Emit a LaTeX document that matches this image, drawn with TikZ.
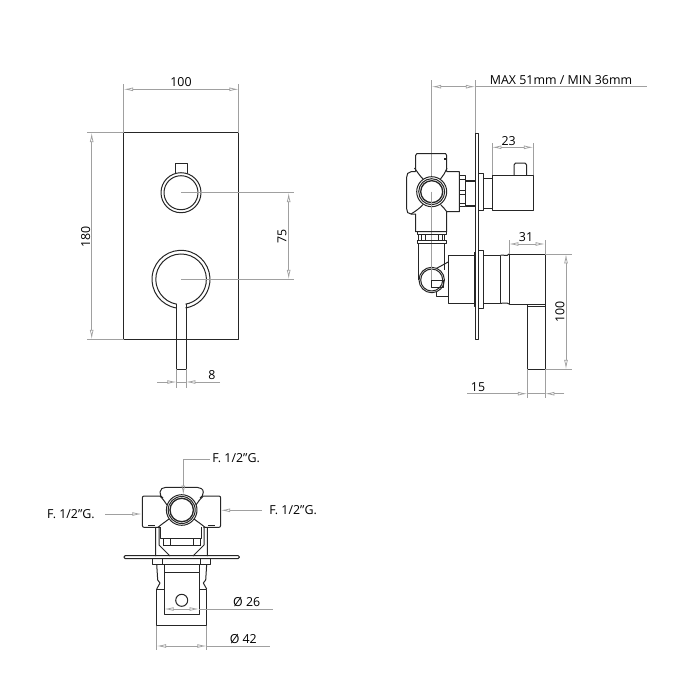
\documentclass[tikz,border=0pt]{standalone}
\usepackage{fontspec}
\setmainfont{Open Sans}
\usetikzlibrary{arrows.meta}
\definecolor{dimgrey}{RGB}{160,160,160}
\tikzset{
  body/.style={draw=black!85,line width=0.75pt,line join=round},
  thin body/.style={draw=black!85,line width=0.5pt},
  dim/.style={draw=dimgrey,line width=0.55pt},
  dimtip/.style={dim,{Latex[open,length=7pt,width=2.8pt]}-{Latex[open,length=7pt,width=2.8pt]}},
  endtip/.style={dim,-{Latex[open,length=7pt,width=2.8pt]}},
  lab/.style={font=\fontsize{9.3}{10}\selectfont,inner sep=0pt,text=black}
}
\begin{document}
\begin{tikzpicture}[x=0.75pt,y=-0.75pt]
\useasboundingbox (0,0) rectangle (700,700);

% front view
\draw[body] (123.7,132.7) rectangle (238.7,339.3);
\draw[body] (175.3,176) -- (175.3,163.3) -- (187.3,163.3) -- (187.3,176);
\draw[body,fill=white] (181,192.7) circle (20);
\draw[body] (181,192.7) circle (17);
\draw[body] (176.7,308) arc (98.5:441:29);
\draw[body] (176.7,304.2) arc (100:440:25.3);
\draw[body] (176.7,304.2) -- (176.7,369.3) -- (186,369.3) -- (186,304.2);
\draw[dim] (181,192.7) -- (293.7,192.7);
\draw[dim] (181,279.3) -- (293.7,279.3);
\draw[dim] (123.7,84) -- (123.7,132.7) (238.7,84) -- (238.7,132.7);
\draw[dim] (87.3,132.7) -- (123.7,132.7) (87.3,339.3) -- (123.7,339.3);
\draw[dimtip] (123.7,89.3) -- (238.7,89.3);
\draw[dimtip] (91.7,132.7) -- (91.7,339.3);
\draw[dimtip] (288.7,192.7) -- (288.7,279.3);
\draw[dim] (176.7,369.3) -- (176.7,388) (186,369.3) -- (186,388);
\draw[dim] (176.7,382) -- (186,382);
\draw[endtip] (157.3,382) -- (176.7,382);
\draw[endtip] (220,382) -- (186,382);
\node[lab] (front width) at (181,82) {100};
\node[lab,rotate=90] (front height) at (85.7,236.7) {180};
\node[lab,rotate=90] (front dist) at (282,236) {75};
\node[lab] (lever width) at (212,375) {8};

% side view
\draw[dim] (431.7,80) -- (431.7,280);
\draw[dim] (475.3,80) -- (475.3,132.7);
\draw[dimtip] (431.7,86.7) -- (475.3,86.7);
\draw[dim] (475.3,86.7) -- (646.7,86.7);
\node[lab] (depth) at (561,80.3) {MAX 51mm / MIN 36mm};
\draw[body] (475.5,133.5) -- (475.5,339.5) -- (478,339.5) -- (478,133.5) -- cycle;
% upper valve
\draw[body] (415.5,171.7) -- (415.5,155.5) -- (417,153.5) -- (445.5,153.5) -- (446.7,155.5) -- (446.7,171.7);
\draw[body] (415.5,171.7) -- (411,171.7) .. controls (408,172) and (406.7,174) .. (406.7,177) -- (406.7,209) .. controls (406.7,212) and (408,214) .. (411,214) -- (415.5,214) -- (415.5,231.7) -- (446.7,231.7) -- (446.7,211.7) -- (459.3,211.7) -- (459.3,171.7) -- (446.7,171.7);
\draw[body] (414.5,168) .. controls (418,173) and (420,176) .. (423,179);
\draw[body] (447,168) .. controls (445,173) and (443,176) .. (440.5,179);
\draw[body] (411,214) .. controls (416,211) and (420,208) .. (423,204.5);
\draw[body] (447,212) .. controls (445,209) and (443,207) .. (440.5,204.5);
\draw[body,line width=1.2pt] (444,159) -- (446.5,159);
\draw[body,fill=white] (431.7,191.7) circle (15);
\draw[body] (431.7,191.7) circle (13);
\draw[body,line width=1pt] (431.7,191.7) circle (11);
\draw[dim] (431.7,191.7) -- (431.7,231);
\draw[body] (459.3,175) rectangle (465.5,206.5);
\draw[thin body] (459.3,179) -- (465.5,179) (459.3,190) -- (465.5,190) (459.3,194) -- (465.5,194) (459.3,203) -- (465.5,203);
\draw[body,line width=1pt] (465.5,181) -- (475.5,181) (465.5,206) -- (475.5,206);
\draw[body] (478,173.3) rectangle (483.3,210);
\draw[body] (483.3,178.3) rectangle (492,208.3);
\draw[body] (492,175) rectangle (533.3,210);
\draw[body] (514,175) -- (514,165) -- (515.5,163) -- (525,163) -- (526.7,165) -- (526.7,175);
% connection
\draw[body] (417.3,231.7) rectangle (446,234);
\draw[body] (418.5,234) rectangle (444.5,240);
\draw[body] (417.3,240) rectangle (446,243.5);
\draw[thin body] (421,234) -- (421,240) (425,234) -- (425,240) (438,234) -- (438,240) (442,234) -- (442,240);
\draw[body] (418.3,243.5) -- (418.3,280) (444.3,243.5) -- (444.3,270);
\draw[body] (436.7,268.3) -- (448.7,261.7);
\draw[body] (436.7,286) -- (436.7,296) -- (448.7,296);
\draw[body,fill=white] (431.7,280) circle (12.7);
\draw[body] (431.7,280) circle (11);
\draw[body] (431.3,280) -- (443.3,280) -- (443.3,287.3) -- (431.3,287.3) -- cycle;
\draw[dim] (431.7,243.5) -- (431.7,280);
% lower handle
\draw[body] (448.7,255) rectangle (474,303.3);
\draw[body] (474,252) rectangle (475.5,306);
\draw[body] (478,250.7) rectangle (483.3,308.3);
\draw[body] (483.3,255) rectangle (500.7,303.3);
\draw[body] (500.7,255) -- (507,255.5) -- (509,254) (500.7,303.3) -- (507,303) -- (509,304);
\draw[body] (509,254) rectangle (545,304);
\draw[body] (527.3,304) rectangle (545,369.3);
\draw[thin body] (527.3,306) -- (545,306);
\draw[dim] (509,240) -- (509,254) (545,240) -- (545,254);
\draw[dimtip] (509,244) -- (545,244);
\draw[dim] (492,143) -- (492,175) (533.3,143) -- (533.3,175);
\draw[dimtip] (492,147.3) -- (533.3,147.3);
\draw[dim] (545,254) -- (571.7,254) (545,369.3) -- (571.7,369.3);
\draw[dimtip] (566,254) -- (566,369.3);
\draw[dim] (527.3,369.3) -- (527.3,398) (545,369.3) -- (545,398);
\draw[dim] (527.3,393.7) -- (545,393.7);
\draw[endtip] (467.3,393.7) -- (527.3,393.7);
\draw[endtip] (564.3,393.7) -- (545,393.7);
\node[lab] (knob depth) at (508.7,140.7) {23};
\node[lab] (handle depth) at (526,236.7) {31};
\node[lab,rotate=90] (lever drop) at (560,311.7) {100};
\node[lab] (lever side) at (478,386.7) {15};

% bottom view
\draw[body] (160,492) .. controls (160,489) and (163,487.3) .. (166,487.3) -- (197,487.3) .. controls (200,487.3) and (203.3,489) .. (203.3,492) .. controls (203.3,495) and (202,497) .. (200,498);
\draw[body] (160,492) .. controls (160,495) and (161,497) .. (163,498);
\draw[body] (160,496) -- (144,496) .. controls (143,496) and (142.3,497) .. (142.3,498) -- (142.3,525) .. controls (142.3,526.5) and (143,527.3) .. (144,527.3) -- (160,527.3);
\draw[body] (203.3,496) -- (219,496) .. controls (220,496) and (220.7,497) .. (220.7,498) -- (220.7,525) .. controls (220.7,526.5) and (220,527.3) .. (219,527.3) -- (203.3,527.3);
\draw[body] (160,496) .. controls (163,499) and (165,502) .. (167,505);
\draw[body] (203.3,496) .. controls (200,499) and (198,502) .. (196,505);
\draw[body] (158,527.3) .. controls (162,524) and (165,522) .. (169,519);
\draw[body] (205,527.3) .. controls (201,524) and (198,522) .. (194,519);
\draw[body,line width=1.2pt] (148,525.5) -- (155,525.5) (208,525.5) -- (215,525.5);
\draw[body] (160,527.3) -- (160,538.3) -- (201.7,538.3) -- (201.7,527.3);
\draw[thin body] (163,538.3) -- (163,545) -- (200,545) -- (200,538.3) (170,538.3) -- (170,545) (193,538.3) -- (193,545);
\draw[body] (155.7,527.3) -- (155.7,556) (159,527.3) -- (159,545) -- (170,556);
\draw[body] (207.3,527.3) -- (207.3,556) (204,527.3) -- (204,545) -- (193,556);
\draw[body,fill=white] (181.7,510) circle (15.3);
\draw[body] (181.7,510) circle (13.5);
\draw[body,line width=1pt] (181.7,510) circle (11.7);
\draw[body,rounded corners=1pt] (124,555.5) rectangle (239.3,558.7);
\draw[body] (152.7,558.7) rectangle (210.7,564.3);
\draw[thin body] (162.7,558.7) -- (162.7,564.3) (200.7,558.7) -- (200.7,564.3);
\draw[body] (156.7,564.3) -- (157.7,580) -- (160,583) -- (156.7,589);
\draw[body] (206.7,564.3) -- (205.7,580) -- (203.3,583) -- (206.7,589);
\draw[body] (164,564.3) -- (164,572.3) (199.3,564.3) -- (199.3,572.3);
\draw[body] (156.7,589) rectangle (206.7,625.7);
\draw[body,fill=white] (164.3,572.3) rectangle (199,614);
\draw[body] (181.7,600.3) circle (6);
\draw[dim] (183.3,459) -- (183.3,478);
\draw[endtip] (183.3,478) -- (183.3,495);
\draw[dim] (183.3,459) -- (210,459);
\draw[endtip] (105,514) -- (141.7,514);
\draw[endtip] (262,510.3) -- (220.7,510.3);
\draw[dimtip] (164.3,609) -- (199,609);
\draw[dim] (199,609) -- (273.3,609);
\draw[dim] (156.7,625.7) -- (156.7,650) (206.7,625.7) -- (206.7,650);
\draw[dimtip] (156.7,646) -- (206.7,646);
\draw[dim] (206.7,646) -- (270,646);
\node[lab,anchor=west] (top inlet) at (212,458) {F. 1/2"G.};
\node[lab,anchor=east] (left inlet) at (95,514.5) {F. 1/2"G.};
\node[lab,anchor=west] (right inlet) at (269,510) {F. 1/2"G.};
\node[lab] (inner dia) at (246.7,601.7) {Ø 26};
\node[lab] (outer dia) at (243.3,638.7) {Ø 42};
\end{tikzpicture}
\end{document}
